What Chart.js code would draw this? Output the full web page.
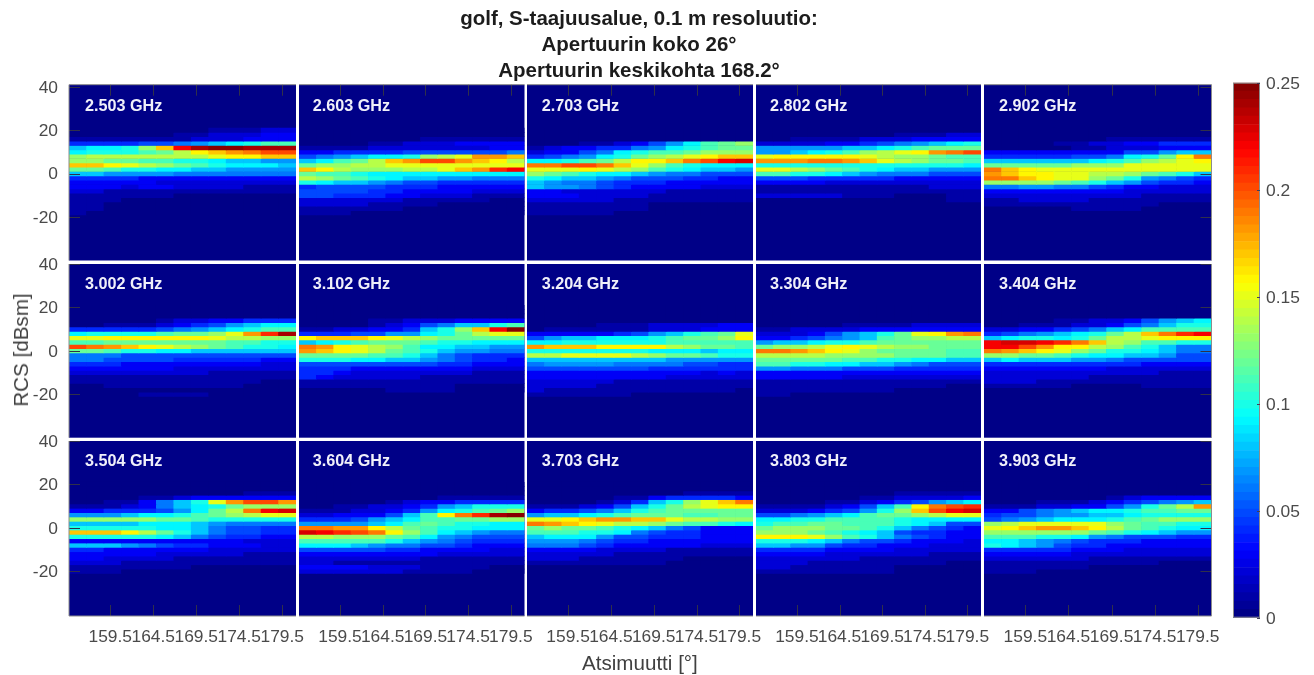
<!DOCTYPE html>
<html><head><meta charset="utf-8">
<style>
html,body{margin:0;padding:0;background:#fff;width:1314px;height:675px;overflow:hidden}
canvas{position:absolute;left:0;top:0}
.t{position:absolute;font-family:"Liberation Sans",Arial,sans-serif;white-space:nowrap}
.title{left:0;width:1278px;text-align:center;font-weight:bold;font-size:20.5px;color:#1c1c1c;line-height:26px}
.freq{font-weight:bold;font-size:16.2px;color:#f0f0fa;line-height:18px}
.axis{font-size:20.6px;color:#404040;line-height:24px}
</style>
<script src="https://cdn.jsdelivr.net/npm/chart.js@4"></script>
</head><body>
<script>
const titleLines = ["golf, S-taajuusalue, 0.1 m resoluutio:", "Apertuurin koko 26°", "Apertuurin keskikohta 168.2°"];
const frequencies = ["2.503 GHz","2.603 GHz","2.703 GHz","2.802 GHz","2.902 GHz","3.002 GHz","3.102 GHz","3.204 GHz","3.304 GHz","3.404 GHz","3.504 GHz","3.604 GHz","3.703 GHz","3.803 GHz","3.903 GHz"];
const azimuths = [155.715,157.746,159.777,161.808,163.838,165.869,167.9,169.931,171.962,173.992,176.023,178.054,180.085];
const rcsCentres = [20,18,16,14,12,10,8,6,4,2,0,-2,-4,-6,-8,-10,-12,-14,-16,-18,-20];
const azTicks = [159.5,164.5,169.5,174.5,179.5];
const rcsTicks = [40,20,0,-20];
const barTicks = [0,0.05,0.1,0.15,0.2,0.25];
const Z = [0,0,0,0,0,0,0,0,0,0,0,0,0];
// amplitude in units of 0.01; rows follow rcsCentres, columns follow azimuths
const g2503 = [[0,0,0,0,0,0,0,0,1,1,1,2,2],[0,0,0,0,0,0,1,1,2,2,2,3,3],[1,1,1,1,1,1,1,2,2,2,3,3,3],[4,4,4,4,5,5,6,7,8,9,10,11,11],[8,9,9,10,13,17,22,24,25,25,24,24,24],[9,10,10,10,11,12,14,16,17,18,19,20,20],[13,14,14,14,14,14,14,14,15,16,16,17,17],[13,13,12,12,11,11,10,10,9,8,8,7,7],[17,17,16,15,14,13,12,11,10,9,9,9,8],[12,12,11,10,10,9,9,8,8,7,7,7,7],[8,8,7,7,7,7,6,6,6,6,6,6,6],[4,4,4,4,3,3,3,3,3,3,3,3,3],[3,3,3,3,3,2,2,2,2,2,2,2,2],[3,3,3,2,3,3,2,2,2,2,1,1,1],[2,2,1,1,1,1,1,1,1,1,1,1,1],[1,1,1,1,1,1,0,0,0,0,0,0,0],[1,1,1,0,0,0,0,0,0,0,0,0,0],[1,1,0,0,0,0,0,0,0,0,0,0,0],[1,1,0,0,0,0,0,0,0,0,0,0,0],[1,0,0,0,0,0,0,0,0,0,0,0,0]];
const g2603 = [Z,Z,[0,0,0,0,0,0,0,1,1,1,1,1,1],[0,0,0,0,1,1,2,2,2,3,3,3,3],[1,1,1,1,2,2,2,2,2,2,2,3,3],[3,3,4,4,4,4,5,5,5,5,5,5,6],[5,6,7,8,9,9,10,13,14,15,18,18,17],[8,9,11,12,14,17,18,20,20,18,17,16,14],[12,13,13,14,14,15,15,15,15,15,15,15,15],[17,16,14,13,13,13,14,14,15,17,18,21,22],[12,11,11,10,9,9,9,9,9,9,9,9,9],[14,13,12,11,10,9,8,8,7,7,6,6,6],[10,9,8,8,7,6,5,5,4,4,4,4,4],[4,5,5,5,5,4,4,4,3,3,3,3,3],[5,5,5,5,4,4,3,3,3,3,2,2,2],[5,5,4,4,4,3,3,2,2,2,1,1,1],[2,2,2,2,2,2,1,1,1,1,1,0,0],[2,2,2,2,1,1,1,1,0,0,0,0,0],[1,1,1,1,1,1,0,0,0,0,0,0,0],[1,1,1,0,0,0,0,0,0,0,0,0,0]];
const g2703 = [Z,Z,Z,[0,0,0,1,1,2,3,5,7,9,11,12,13],[1,2,3,3,4,4,6,7,9,10,11,12,12],[2,3,3,5,6,9,10,11,11,12,13,13,13],[4,5,6,7,9,10,12,13,14,15,16,17,17],[9,9,10,11,12,14,16,16,17,19,20,22,23],[19,19,20,20,19,17,15,13,11,10,9,9,9],[15,15,15,16,15,14,13,11,10,9,8,8,7],[13,12,11,10,9,9,8,7,6,6,5,5,5],[10,9,8,8,7,6,5,5,5,4,4,3,3],[8,7,6,6,5,4,4,4,3,3,3,3,3],[8,7,7,6,5,4,3,3,3,3,2,2,2],[3,3,2,2,2,2,2,2,1,1,1,1,1],[3,3,3,2,2,2,2,1,1,1,1,1,1],[2,2,2,2,2,1,1,1,1,1,1,1,1],[1,1,1,1,1,1,1,0,0,0,0,0,0],[1,1,1,1,1,1,1,0,0,0,0,0,0],[1,1,1,1,1,0,0,0,0,0,0,0,0]];
const g2802 = [Z,[0,0,0,0,0,0,0,0,1,1,1,2,2],[0,0,1,1,1,1,2,2,2,3,3,3,3],[2,2,2,2,3,3,4,5,6,7,8,9,10],[7,7,7,7,7,8,8,9,10,11,12,12,12],[7,7,8,9,10,11,13,14,15,16,18,19,20],[15,16,16,16,16,16,15,14,13,13,12,11,11],[18,18,18,19,19,18,17,15,14,13,12,12,11],[10,10,10,10,10,10,10,10,10,10,10,10,9],[15,15,14,13,12,11,10,9,8,8,7,7,7],[11,11,10,10,9,8,7,6,6,6,5,5,5],[5,5,5,4,4,4,4,4,3,3,3,3,3],[3,3,3,3,2,2,2,2,2,2,2,2,2],[1,1,1,1,1,1,1,1,1,1,2,2,2],[1,1,1,1,1,1,1,1,1,1,1,1,1],[2,2,2,2,2,1,1,1,0,0,0,1,1],[0,0,0,0,0,0,0,0,0,0,0,1,1]];
const g2902 = [Z,Z,[0,0,0,0,0,0,0,1,1,1,1,1,1],[0,0,0,0,1,1,2,2,3,3,4,4,4],[0,0,0,0,0,1,1,2,2,2,3,3,3],[3,3,3,3,3,3,3,3,5,5,7,8,8],[4,4,4,4,4,5,5,6,9,10,12,16,19],[8,8,8,8,8,8,9,10,11,13,14,15,16],[12,12,12,12,12,13,13,13,15,15,15,15,15],[19,17,16,15,15,15,15,15,15,15,15,15,15],[18,17,16,16,15,15,14,14,13,12,11,10,8],[19,19,17,16,15,15,13,12,10,7,6,5,4],[13,13,13,13,12,11,10,8,7,5,4,4,3],[6,6,7,7,6,6,5,4,3,3,2,2,2],[3,3,3,3,3,3,3,3,2,2,2,2,2],[2,2,2,2,2,2,2,2,2,1,1,1,1],[1,1,2,2,2,2,1,1,1,1,1,1,1],[1,1,1,1,1,1,1,1,1,1,0,0,0],[0,0,0,0,0,1,1,1,1,0,0,0,0]];
const g3002 = [Z,Z,Z,[0,0,0,0,0,1,2,2,3,3,4,4,4],[0,0,1,1,1,2,3,4,5,7,8,9,9],[4,4,4,4,4,5,6,7,8,9,10,11,11],[9,10,10,10,10,11,12,12,13,15,18,21,24],[15,15,16,16,16,16,16,16,15,14,14,13,13],[11,11,12,12,12,12,12,12,12,11,11,10,10],[20,19,18,17,16,15,14,13,12,11,10,10,9],[12,12,11,10,10,9,9,8,8,8,8,8,8],[6,6,6,5,5,5,5,5,5,5,5,5,5],[6,6,5,5,5,5,4,4,4,4,4,3,3],[4,4,4,3,3,3,3,3,3,3,3,2,2],[3,3,3,3,3,3,2,2,2,2,2,2,2],[2,2,2,2,2,2,2,2,1,1,1,1,1],[1,1,1,1,1,1,1,1,1,1,1,1,1],[1,1,1,1,1,1,1,1,1,1,1,0,0],[0,0,1,1,1,1,1,1,1,1,0,0,0],Z,[0,0,0,0,1,1,1,1,0,0,0,0,0]];
const g3102 = [Z,Z,Z,[0,0,0,0,1,1,2,2,2,3,3,3,3],[0,0,0,0,1,2,3,5,6,8,8,10,11],[1,1,2,2,3,3,4,8,10,13,17,22,25],[4,4,4,5,5,7,7,9,10,12,14,15,15],[16,17,17,17,16,15,14,13,12,12,12,12,12],[8,9,10,11,12,12,12,11,10,10,9,9,9],[19,18,16,15,14,13,11,9,9,8,8,7,7],[18,17,16,15,14,12,11,10,8,7,7,6,6],[12,12,12,12,11,11,10,8,6,5,4,4,4],[10,10,10,9,9,8,8,7,6,5,4,4,3],[5,5,5,5,5,5,5,5,4,4,3,3,3],[4,4,4,3,3,3,3,3,3,3,2,2,2],[4,4,3,2,2,2,2,2,2,2,1,1,1],[4,3,2,2,2,2,2,1,1,1,1,1,1],[1,1,1,1,1,1,1,1,1,1,1,1,1],[1,1,1,1,1,1,1,1,1,0,0,0,0],[0,0,0,0,0,1,1,1,1,0,0,0,0]];
const g3204 = [Z,Z,Z,Z,[0,0,0,0,1,1,1,2,2,2,2,3,3],[0,1,1,1,1,1,1,2,2,2,3,3,3],[3,3,3,3,3,4,5,7,8,10,11,12,15],[5,7,8,8,9,9,9,10,11,12,12,13,16],[9,9,10,10,10,10,10,10,11,11,11,11,11],[18,17,17,17,16,16,16,16,14,13,12,12,11],[10,10,10,10,10,10,10,9,9,9,8,9,9],[14,14,15,15,15,15,14,13,12,12,11,10,10],[8,8,8,8,8,8,8,8,7,7,7,7,7],[6,7,7,7,7,6,6,6,6,5,5,4,4],[5,5,5,5,5,5,5,4,4,4,4,4,4],[3,3,3,3,3,3,3,3,3,3,2,3,2],[3,3,3,3,3,3,3,3,2,2,2,2,2],[2,2,2,2,2,1,1,1,1,1,1,1,1],[2,2,2,2,1,1,1,1,1,1,1,1,1],[2,1,1,1,1,1,1,1,1,1,1,1,0],[1,1,1,1,1,1,0,0,0,0,0,0,0]];
const g3304 = [Z,Z,Z,Z,[0,0,0,0,0,1,1,1,1,2,2,2,2],[1,1,2,2,2,2,3,3,3,3,3,3,3],[2,2,2,3,5,7,8,10,12,15,16,18,19],[3,3,4,5,6,7,8,11,12,13,13,14,14],[7,8,8,9,10,10,11,12,12,12,12,12,12],[12,13,13,14,15,16,15,14,13,13,12,12,12],[19,19,18,17,16,15,13,12,12,12,12,11,11],[14,14,14,14,13,13,13,13,12,12,12,11,11],[12,12,12,12,12,11,11,10,10,9,9,8,8],[11,11,10,10,9,9,8,8,7,6,5,5,5],[7,7,6,6,6,5,5,5,4,4,4,4,4],[3,3,3,3,3,3,3,3,3,3,3,3,3],[3,3,3,3,3,2,2,2,2,2,2,2,2],[1,1,1,1,1,1,1,1,1,1,1,1,1],[1,1,1,1,1,1,1,1,1,1,1,0,0],[1,1,1,1,1,1,1,1,0,0,0,0,0],[1,1,0,0,0,0,0,0,0,0,0,0,0]];
const g3404 = [Z,Z,Z,[0,0,0,0,1,1,2,2,3,5,7,8,9],[0,0,1,1,1,2,2,3,5,6,8,10,10],[2,2,3,3,4,5,6,8,9,11,11,11,11],[4,5,6,7,8,9,10,12,14,17,19,21,22],[8,9,10,10,9,10,12,14,14,15,16,16,16],[22,23,23,22,21,19,17,14,13,11,11,10,10],[22,22,20,18,16,16,14,13,11,10,8,6,6],[19,18,17,16,15,13,12,10,10,9,8,6,6],[13,13,12,12,11,10,9,9,8,8,7,5,5],[8,9,8,8,8,7,7,6,5,5,5,5,5],[4,4,4,4,4,4,4,4,4,3,3,3,3],[3,3,3,3,3,3,3,2,2,2,2,2,2],[2,2,2,2,2,2,2,2,2,2,1,1,1],[2,2,2,2,2,2,1,1,1,1,1,1,1],[2,2,2,1,1,1,1,1,1,1,1,1,1],[1,1,1,1,1,0,0,0,0,1,1,1,1]];
const g3504 = [Z,Z,[0,0,0,0,0,0,0,0,0,0,1,1,1],[0,0,0,0,1,1,2,3,3,3,3,3,3],[0,0,1,1,3,6,8,10,15,18,20,20,18],[1,1,1,2,3,6,8,9,10,12,13,13,13],[3,3,4,4,4,5,7,9,12,14,19,22,23],[7,7,7,8,9,9,10,11,12,13,14,15,15],[13,13,13,13,13,12,12,11,10,10,10,10,10],[8,8,8,8,9,9,9,8,7,6,6,6,6],[10,10,10,10,10,9,9,8,6,5,5,4,4],[17,17,17,16,14,12,10,8,6,5,5,4,4],[10,10,10,10,10,9,8,6,5,4,4,3,3],[3,3,3,3,3,3,3,3,3,3,2,2,2],[8,8,8,7,6,5,4,4,3,3,3,2,2],[4,4,3,3,3,3,3,3,2,2,2,2,2],[3,3,3,3,3,2,2,2,2,2,1,1,1],[3,3,2,2,2,2,1,1,1,1,1,1,1],[2,2,2,1,1,1,1,1,1,1,1,1,1],[1,1,1,1,1,1,1,0,0,0,0,0,0],[1,1,1,0,0,0,0,0,0,0,0,0,0]];
const g3604 = [Z,Z,Z,[0,0,0,0,0,0,0,0,1,1,1,1,1],[0,0,0,0,0,1,2,3,3,4,4,4,4],[0,0,1,1,2,2,3,4,7,8,10,10,10],[1,1,1,2,2,3,4,7,9,10,11,12,13],[2,2,3,3,3,5,8,11,16,19,21,24,25],[4,4,4,5,7,8,9,11,11,12,12,13,13],[7,7,7,7,8,9,11,12,11,10,10,9,9],[19,19,18,18,16,14,12,11,10,10,9,9,9],[23,22,21,20,19,16,13,11,9,8,7,6,6],[14,14,13,13,13,12,11,9,7,6,5,5,5],[11,11,11,11,11,10,8,7,6,5,4,4,4],[9,9,9,8,7,6,6,5,5,4,3,3,3],[5,5,5,5,5,4,4,3,3,3,3,2,2],[3,3,3,3,3,3,3,3,2,2,2,2,2],[2,2,2,2,2,2,2,1,1,1,1,1,1],[2,2,1,1,1,1,1,1,1,1,1,1,1],[3,3,3,3,2,2,2,1,1,1,1,0,0],[2,2,2,2,2,2,1,1,1,1,0,0,0]];
const g3703 = [Z,Z,[0,0,0,0,0,0,0,0,0,1,1,1,1],[0,0,0,0,0,1,1,3,4,4,4,4,3],[0,0,0,0,1,2,4,8,10,13,15,17,19],[1,1,1,2,3,5,8,10,12,14,15,16,16],[3,4,4,5,6,8,10,11,12,12,12,12,12],[7,8,8,9,10,11,12,12,12,11,11,12,12],[15,15,16,17,18,18,17,17,15,14,14,13,13],[19,18,17,16,15,14,14,13,12,11,11,10,9],[12,13,12,12,11,10,9,8,6,5,3,3,3],[11,11,11,10,10,9,6,5,4,4,3,3,3],[8,9,9,9,7,5,5,4,4,4,3,3,3],[7,7,7,6,5,4,4,3,3,3,3,3,3],[6,6,6,5,4,3,3,3,3,3,2,2,2],[3,3,3,3,2,2,2,2,1,1,1,1,1],[2,2,2,2,2,1,1,1,1,1,1,1,1],[2,2,2,1,1,1,1,1,1,0,0,0,0],[1,1,1,1,1,1,1,1,0,0,0,0,0]];
const g3803 = [Z,Z,[0,0,0,0,0,0,0,0,1,1,1,1,1],[0,0,0,0,0,0,1,1,2,2,2,2,3],[0,0,0,0,1,1,2,3,4,5,7,8,9],[1,1,1,1,2,3,5,8,11,16,19,20,21],[2,2,2,3,4,5,7,10,13,17,20,22,23],[5,5,6,7,8,9,11,12,12,13,14,15,15],[9,9,10,10,11,11,11,11,10,9,9,9,9],[10,11,11,12,12,11,11,11,10,9,8,5,5],[12,13,13,13,12,12,11,10,8,6,5,4,3],[13,13,13,12,11,10,9,8,5,4,4,3,3],[16,16,16,15,13,11,10,8,6,5,4,3,3],[10,10,10,9,8,6,5,5,4,3,3,3,2],[8,8,7,7,5,4,4,3,3,3,2,2,2],[4,4,4,4,3,3,3,3,2,2,2,2,2],[3,3,3,3,2,2,2,2,2,2,1,1,1],[2,2,2,2,2,2,1,1,1,1,1,1,1],[2,2,2,1,1,1,1,1,1,1,1,0,0],[2,2,1,1,1,1,1,1,0,0,0,0,0],[1,1,1,1,1,1,1,1,0,0,0,0,0]];
const g3903 = [Z,Z,Z,[0,0,0,0,0,0,0,1,2,3,3,3,3],[0,0,0,1,1,1,2,3,4,5,6,7,8],[1,1,1,2,2,3,3,5,7,10,12,14,18],[3,3,5,6,7,8,9,9,10,11,11,12,12],[4,5,5,6,7,7,8,8,9,10,10,10,10],[5,6,7,8,9,9,9,10,11,12,13,13,13],[13,14,15,15,15,15,15,13,12,11,11,10,10],[15,16,17,18,18,17,16,14,12,11,10,9,9],[13,13,13,13,13,13,12,11,10,9,8,7,7],[11,11,11,10,10,9,7,6,5,5,5,4,4],[9,9,8,7,6,5,4,4,4,3,3,3,3],[10,9,8,7,5,4,4,3,3,3,3,3,3],[4,4,4,4,4,3,3,3,2,2,2,2,2],[3,3,3,3,3,2,2,2,2,2,2,2,2],[2,2,2,2,2,2,1,1,1,1,1,1,1],[1,1,1,1,1,1,1,1,1,1,0,0,0],[1,1,1,1,1,1,0,0,0,0,0,0,0],[1,1,1,0,0,0,0,0,0,0,0,0,0]];
const grids = [g2503,g2603,g2703,g2802,g2902,g3002,g3102,g3204,g3304,g3404,g3504,g3604,g3703,g3803,g3903];

// page layout
const W = 1314, H = 675;
const colL = [69,299,527,756,984], colR = [296,524.5,753,981,1211.5];
const rowT = [84.7,264,441], rowB = [260.5,437.7,616];
const rowMax = [41,40,40], rowMin = [-40,-40,-40.6];
const azRange = [154.7,181.1];
const freqX = [85,312.7,541.7,770,999], freqY = [105,283,460];
const FONT = '"Liberation Sans", Arial, sans-serif';
const yAxisW = 60, xAxisH = 50, barAxisW = 50;

function jet(v){
  const i = Math.max(0, Math.min(63, Math.floor(v/0.25*64)));
  const t = (i+0.5)/64;
  const f = c => Math.round(255*Math.max(0,Math.min(1,1.5-Math.abs(4*t-c))));
  return `rgb(${f(3)},${f(2)},${f(1)})`;
}
function newCanvas(){
  const c = document.createElement('canvas');
  c.width = W; c.height = H; c.style.width = W+'px'; c.style.height = H+'px';
  document.body.appendChild(c);
  return c;
}
function text(cls, str, css){
  const d = document.createElement('div');
  d.className = 't '+cls; d.textContent = str; Object.assign(d.style, css);
  document.body.appendChild(d);
  return d;
}
const panelPlugin = {
  id:'panel',
  beforeDatasetsDraw(chart){
    const a = chart.chartArea, c = chart.ctx;
    c.save(); c.fillStyle = jet(0); c.fillRect(a.left,a.top,a.right-a.left,a.bottom-a.top); c.restore();
  },
  afterDatasetsDraw(chart, args, o){
    const a = chart.chartArea, c = chart.ctx, len = 11;
    c.save(); c.strokeStyle = '#30304a'; c.lineWidth = 1; c.beginPath();
    const xs = chart.scales.x, ys = chart.scales.y;
    if(o.row===0) azTicks.forEach(v=>{const p=Math.round(xs.getPixelForValue(v))+.5; c.moveTo(p,a.top); c.lineTo(p,a.top+len);});
    if(o.row===2) azTicks.forEach(v=>{const p=Math.round(xs.getPixelForValue(v))+.5; c.moveTo(p,a.bottom); c.lineTo(p,a.bottom-len);});
    if(o.col===0) rcsTicks.forEach(v=>{const p=Math.round(ys.getPixelForValue(v))+.5; c.moveTo(a.left,p); c.lineTo(a.left+len,p);});
    if(o.col===4) rcsTicks.forEach(v=>{const p=Math.round(ys.getPixelForValue(v))+.5; c.moveTo(a.right,p); c.lineTo(a.right-len,p);});
    c.stroke();
    c.strokeStyle = '#8c8c8c'; c.beginPath();
    if(o.row===0){c.moveTo(a.left,a.top);c.lineTo(a.right,a.top);}
    if(o.row===2){c.moveTo(a.left,a.bottom);c.lineTo(a.right,a.bottom);}
    if(o.col===0){c.moveTo(a.left,a.top);c.lineTo(a.left,a.bottom);}
    if(o.col===4){c.moveTo(a.right,a.top);c.lineTo(a.right,a.bottom);}
    c.stroke(); c.restore();
  }
};

grids.forEach((grid,n)=>{
  const col = n%5, row = Math.floor(n/5);
  const datasets = grid.map((vals,i)=>({
    label: frequencies[n]+' '+rcsCentres[i]+' dBsm',
    data: azimuths.map((a,j)=>({x:a, y:[rcsCentres[i]-1, rcsCentres[i]+1]})),
    backgroundColor: vals.map(v=>jet(v/100)),
    borderWidth: 0, grouped:false, barPercentage:1, categoryPercentage:1
  }));
  new Chart(newCanvas(), {
    type:'bar', data:{datasets}, plugins:[panelPlugin],
    options:{
      responsive:false, animation:false, devicePixelRatio:1,
      layout:{padding:{
        left:colL[col]-(col===0?yAxisW:0),
        right:W-colR[col],
        top:rowT[row],
        bottom:H-rowB[row]-(row===2?xAxisH:0)}},
      plugins:{legend:{display:false},tooltip:{enabled:false},title:{display:false},panel:{row,col}},
      scales:{
        x:{type:'linear',min:azRange[0],max:azRange[1],display:row===2,offset:false,
           grid:{display:false},border:{display:false},
           afterBuildTicks:s=>{s.ticks=azTicks.map(v=>({value:v}));},
           afterFit:s=>{s.height=(row===2?xAxisH:0);},
           ticks:{autoSkip:false,maxRotation:0,minRotation:0,padding:3,color:'#4a4a4a',font:{family:FONT,size:17.4},callback:v=>v.toFixed(1)}},
        y:{type:'linear',min:rowMin[row],max:rowMax[row],display:col===0,
           grid:{display:false},border:{display:false},
           afterBuildTicks:s=>{s.ticks=rcsTicks.map(v=>({value:v}));},
           afterFit:s=>{s.width=(col===0?yAxisW:0);},
           ticks:{autoSkip:false,padding:3,labelOffset:1,color:'#4a4a4a',font:{family:FONT,size:17.4},callback:v=>String(v)}}
      }
    }
  });
  text('freq', frequencies[n], {left:freqX[col]+'px', top:(freqY[row]-9)+'px'});
});

// colour bar
const levels = Array.from({length:64},(_,i)=>i);
new Chart(newCanvas(), {
  type:'bar',
  data:{labels:['c'],datasets:levels.map(i=>({
    label:'level '+i,
    data:[[i*0.25/64,(i+1)*0.25/64]],
    backgroundColor:jet((i+0.5)*0.25/64),borderWidth:0,grouped:false,barPercentage:1,categoryPercentage:1
  }))},
  plugins:[{id:'cbFrame',afterDatasetsDraw(chart){
    const a=chart.chartArea,c=chart.ctx,ys=chart.scales.y;
    c.save();c.strokeStyle='#8c8c8c';c.lineWidth=1;c.strokeRect(a.left+.5,a.top+.5,a.right-a.left-1,a.bottom-a.top-1);
    c.strokeStyle='#40405a';c.beginPath();
    barTicks.forEach(v=>{const p=Math.round(ys.getPixelForValue(v))+.5;c.moveTo(a.right,p);c.lineTo(a.right-3,p);});
    c.stroke();c.restore();
  }}],
  options:{
    responsive:false,animation:false,devicePixelRatio:1,
    layout:{padding:{left:1233,right:W-1260-barAxisW,top:82.7,bottom:H-617.7}},
    plugins:{legend:{display:false},tooltip:{enabled:false}},
    scales:{
      x:{display:false,grid:{display:false},afterFit:s=>{s.height=0;}},
      y:{type:'linear',position:'right',min:0,max:0.25,
         grid:{display:false},border:{display:false},
         afterBuildTicks:s=>{s.ticks=barTicks.map(v=>({value:v}));},
         afterFit:s=>{s.width=barAxisW;},
         ticks:{autoSkip:false,padding:-2,labelOffset:2,color:'#4a4a4a',font:{family:FONT,size:17.4},callback:v=>String(v)}}
    }
  }
});

titleLines.forEach((l,i)=>text('title',l,{top:(5+i*26)+'px'}));
text('axis','Atsimuutti [°]',{left:'582px',top:'651px'});
const yt = text('axis','RCS [dBsm]',{left:'21px',top:'350px'});
yt.style.transform='translate(-50%,-50%) rotate(-90deg)';
</script>
</body></html>
